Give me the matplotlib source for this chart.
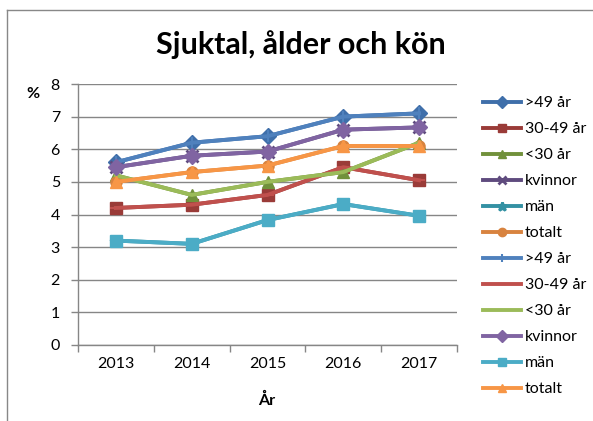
import matplotlib
matplotlib.use("Agg")
import matplotlib.pyplot as plt
from matplotlib.lines import Line2D

plt.rcParams['font.family'] = ['Lato', 'DejaVu Sans']

years = ["2013", "2014", "2015", "2016", "2017"]
labels = [">49 år", "30-49 år", "<30 år", "kvinnor", "män", "totalt"]
v_over49 = [5.6, 6.2, 6.4, 7.0, 7.1]
v_30_49 = [4.2, 4.3, 4.6, 5.45, 5.05]
v_under30 = [5.2, 4.6, 5.0, 5.3, 6.2]
v_kvinnor = [5.45, 5.8, 5.93, 6.6, 6.67]
v_man = [3.2, 3.1, 3.83, 4.32, 3.96]
v_totalt = [5.0, 5.3, 5.5, 6.1, 6.1]
values = [v_over49, v_30_49, v_under30, v_kvinnor, v_man, v_totalt]

colors1 = ["#3F6FAA", "#9A3B38", "#71913B", "#5F4B7E", "#3391A3", "#D8833F"]
markers1 = ["D", "s", "^", "x", "*", "o"]
colors2 = ["#4F81BD", "#C0504D", "#9BBB59", "#8064A2", "#4BACC6", "#F79646"]
markers2 = ["|", "_", "None", "D", "s", "^"]

W, H = 593, 421
fig = plt.figure(figsize=(W / 100, H / 100), dpi=100)
ax = fig.add_axes([78 / W, 1 - 345 / H, (457 - 78) / W, (345 - 84) / H])

x = list(range(len(years)))
for vals, c, m, lab in zip(values, colors1, markers1, labels):
    ms = 8.5 if m in ("x", "*") else 8
    ax.plot(x, vals, color=c, marker=m, markersize=ms, linewidth=2.8,
            markeredgewidth=2 if m in ("x", "*") else 1, label=lab)
for vals, c, m, lab in zip(values, colors2, markers2, labels):
    ax.plot(x, vals, color=c, marker=m, markersize=8, linewidth=2.8,
            markeredgewidth=1.5 if m in ("|", "_") else 1, label=lab)

ax.set_xlim(-0.5, len(years) - 0.5)
ax.set_ylim(0, 8)
ax.set_yticks(range(0, 9))
ax.set_xticks(x)
ax.set_xticklabels(years)
ax.set_xticks([i - 0.5 for i in range(len(years) + 1)], minor=True)
ax.tick_params(axis='x', which='major', length=0, pad=9, labelsize=11.5)
ax.tick_params(axis='x', which='minor', length=5, color="#868686", width=1, direction='out')
ax.tick_params(axis='y', length=5, color="#868686", width=1, direction='out', pad=8, labelsize=11.5)
ax.grid(axis='y', color="#868686", linewidth=1)
ax.set_axisbelow(True)
for s in ("top", "right"):
    ax.spines[s].set_visible(False)
for s in ("left", "bottom"):
    ax.spines[s].set_color("#868686")
    ax.spines[s].set_linewidth(1)

fig.text(301 / W, 1 - 45 / H, "Sjuktal, ålder och kön", ha='center', va='center',
         fontsize=22, fontweight='bold')
fig.text(33 / W, 1 - 94 / H, "%", ha='center', va='center', fontsize=11.5, fontweight='bold')
fig.text(267 / W, 1 - 400 / H, "År", ha='center', va='center', fontsize=11.5, fontweight='bold')

ax.legend(loc='upper left', bbox_to_anchor=(483 / W, 1 - 96 / H), bbox_transform=fig.transFigure,
          frameon=False, fontsize=11.5, handlelength=2.4, handletextpad=0.2,
          labelspacing=0.74, borderpad=0, borderaxespad=0, markerscale=0.75)

fig.add_artist(Line2D([7 / W, 7 / W], [0, 1 - 10 / H], transform=fig.transFigure,
                      color="#888888", linewidth=1))
fig.add_artist(Line2D([7 / W, 1], [1 - 10 / H, 1 - 10 / H], transform=fig.transFigure,
                      color="#888888", linewidth=1))

fig.savefig("out.png", dpi=100)
